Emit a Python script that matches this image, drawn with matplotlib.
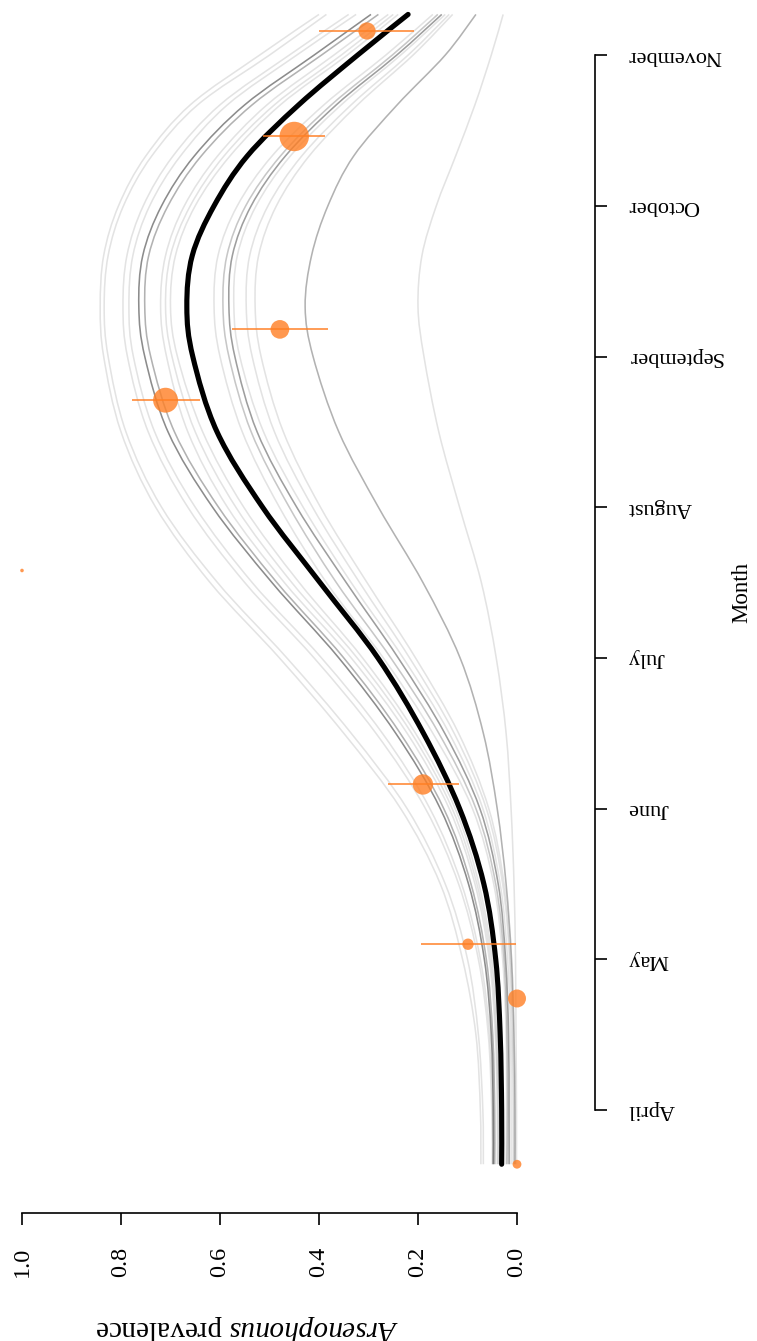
import matplotlib
matplotlib.use("Agg")
import matplotlib.pyplot as plt
from matplotlib.path import Path
from matplotlib.patches import PathPatch
import numpy as np

plt.rcParams['font.family'] = ['Liberation Serif', 'DejaVu Serif']
plt.rcParams['mathtext.fontset'] = 'custom'
plt.rcParams['mathtext.it'] = 'Liberation Serif:italic'
plt.rcParams['mathtext.rm'] = 'Liberation Serif'

# ---------------- data ----------------
months = ["April", "May", "June", "July", "August", "September", "October", "November"]
month_pos = [0, 1, 2, 3, 4, 5, 6, 7]
prev_ticks = [0.0, 0.2, 0.4, 0.6, 0.8, 1.0]
prev_tick_labels = ["0.0", "0.2", "0.4", "0.6", "0.8", "1.0"]

# observed samples (time in months since 1 April)
obs_time = [-0.36, 0.74, 1.10, 2.16, 3.58, 4.71, 5.18, 6.46, 7.16]
obs_prev = [0.0, 0.0, 0.099, 0.19, 1.0, 0.71, 0.479, 0.45, 0.303]
obs_n = [6, 25, 10, 32, 1, 48, 27, 67, 23]
err_time = [1.10, 2.16, 4.71, 5.18, 6.46, 7.16]
err_lo = [0.002, 0.117, 0.640, 0.382, 0.388, 0.208]
err_hi = [0.194, 0.261, 0.778, 0.576, 0.513, 0.400]

# common time grid for the model curves
grid_t = [-0.36, 0.0, 0.5, 1.0, 1.5, 2.0, 2.5, 3.0, 3.5, 4.0, 4.5, 5.0, 5.33, 5.67, 6.0, 6.33, 6.67, 7.0, 7.27]

# fitted curve (thick black)
fit_p = [0.031, 0.031, 0.034, 0.043, 0.067, 0.116, 0.189, 0.281, 0.398, 0.514, 0.606, 0.655, 0.667,
         0.656, 0.612, 0.545, 0.441, 0.322, 0.220]

# alternative model curves (gray)
alt_curves = [
    [0.073, 0.074, 0.083, 0.110, 0.155, 0.235, 0.350, 0.480, 0.620, 0.730, 0.800, 0.835, 0.842, 0.835, 0.805, 0.750, 0.660, 0.520, 0.400],
    [0.068, 0.069, 0.078, 0.100, 0.145, 0.222, 0.335, 0.465, 0.605, 0.718, 0.790, 0.826, 0.834, 0.826, 0.795, 0.738, 0.645, 0.500, 0.385],
    [0.050, 0.051, 0.058, 0.078, 0.118, 0.185, 0.285, 0.410, 0.550, 0.665, 0.745, 0.787, 0.796, 0.788, 0.755, 0.695, 0.600, 0.460, 0.340],
    [0.048, 0.049, 0.055, 0.074, 0.112, 0.176, 0.272, 0.395, 0.535, 0.650, 0.732, 0.775, 0.784, 0.776, 0.742, 0.680, 0.585, 0.445, 0.325],
    [0.048, 0.048, 0.052, 0.066, 0.098, 0.155, 0.245, 0.360, 0.495, 0.615, 0.705, 0.752, 0.764, 0.756, 0.718, 0.652, 0.550, 0.410, 0.295],
    [0.045, 0.045, 0.049, 0.062, 0.093, 0.148, 0.236, 0.350, 0.485, 0.603, 0.692, 0.740, 0.752, 0.744, 0.705, 0.638, 0.535, 0.395, 0.280],
    [0.040, 0.040, 0.044, 0.056, 0.085, 0.137, 0.222, 0.335, 0.470, 0.585, 0.665, 0.708, 0.720, 0.710, 0.672, 0.605, 0.505, 0.370, 0.260],
    [0.038, 0.038, 0.042, 0.053, 0.081, 0.131, 0.213, 0.323, 0.455, 0.568, 0.650, 0.697, 0.710, 0.700, 0.660, 0.592, 0.490, 0.355, 0.250],
    [0.036, 0.036, 0.040, 0.050, 0.077, 0.125, 0.205, 0.312, 0.440, 0.552, 0.635, 0.686, 0.700, 0.690, 0.650, 0.580, 0.478, 0.343, 0.240],
    [0.022, 0.021, 0.022, 0.029, 0.047, 0.090, 0.170, 0.270, 0.385, 0.480, 0.555, 0.600, 0.612, 0.604, 0.565, 0.495, 0.390, 0.265, 0.170],
    [0.020, 0.019, 0.020, 0.026, 0.043, 0.083, 0.158, 0.255, 0.365, 0.460, 0.537, 0.582, 0.594, 0.586, 0.548, 0.478, 0.375, 0.252, 0.160],
    [0.016, 0.016, 0.017, 0.023, 0.038, 0.075, 0.146, 0.240, 0.345, 0.445, 0.525, 0.570, 0.582, 0.575, 0.537, 0.468, 0.365, 0.243, 0.152],
    [0.012, 0.012, 0.013, 0.019, 0.034, 0.069, 0.137, 0.230, 0.335, 0.432, 0.512, 0.560, 0.572, 0.565, 0.527, 0.458, 0.355, 0.235, 0.145],
    [0.008, 0.008, 0.010, 0.015, 0.029, 0.062, 0.127, 0.217, 0.318, 0.413, 0.490, 0.535, 0.547, 0.540, 0.503, 0.435, 0.335, 0.220, 0.137],
    [0.006, 0.006, 0.008, 0.013, 0.026, 0.057, 0.118, 0.205, 0.303, 0.397, 0.472, 0.517, 0.529, 0.522, 0.486, 0.420, 0.322, 0.210, 0.130],
    [0.004, 0.004, 0.006, 0.011, 0.022, 0.040, 0.068, 0.115, 0.190, 0.280, 0.360, 0.412, 0.428, 0.415, 0.382, 0.330, 0.242, 0.145, 0.083],
    [0.001, 0.001, 0.002, 0.003, 0.006, 0.012, 0.022, 0.042, 0.072, 0.116, 0.158, 0.188, 0.200, 0.192, 0.163, 0.124, 0.085, 0.052, 0.028],
]
alt_weight = [0.11, 0.11, 0.11, 0.11, 0.45, 0.30, 0.11, 0.11, 0.11,
              0.11, 0.22, 0.38, 0.11, 0.11, 0.11, 0.30, 0.11]


def smooth_path(xs, ys):
    """Catmull-Rom style cubic Bezier path through the given points."""
    P = np.column_stack([xs, ys]).astype(float)
    n = len(P)
    verts = [P[0]]
    codes = [Path.MOVETO]
    for i in range(n - 1):
        p0 = P[i - 1] if i > 0 else P[i]
        p1, p2 = P[i], P[i + 1]
        p3 = P[i + 2] if i + 2 < n else P[i + 1]
        c1 = p1 + (p2 - p0) / 6.0
        c2 = p2 - (p3 - p1) / 6.0
        verts += [c1, c2, p2]
        codes += [Path.CURVE4] * 3
    return Path(verts, codes)


# ---------------- figure ----------------
W, H, DPI = 757, 1341, 100
fig = plt.figure(figsize=(W / DPI, H / DPI), dpi=DPI)
ax = fig.add_axes([0, 1 - 1213 / H, 600 / W, 1213 / H])
ax.set_facecolor('none')

# pixel mapping: x = 517 - 495 * p ; y = 1110 - 150.7 * t
ax.set_xlim(517 / 495, (517 - 600) / 495)
ax.set_ylim((1110 - 1213) / 150.7, 1110 / 150.7)

for vals, w in zip(alt_curves, alt_weight):
    ax.add_patch(PathPatch(smooth_path(vals, grid_t), facecolor='none', edgecolor='black',
                           alpha=w, lw=1.15, capstyle='butt', zorder=2))

ax.add_patch(PathPatch(smooth_path(fit_p, grid_t), facecolor='none', edgecolor='black',
                       lw=3.7, capstyle='round', zorder=3))

orange = '#FF7F24'
ax.hlines(err_time, err_lo, err_hi, color=orange, lw=1.2, alpha=0.9, zorder=5)
ax.scatter(obs_prev, obs_time, s=[6.7 * n for n in obs_n], color=orange, alpha=0.8,
           edgecolors='none', zorder=4)

# axes styling (R-like, rotated layout)
for sp in ['top', 'left']:
    ax.spines[sp].set_visible(False)
ax.spines['bottom'].set_bounds(0, 1)
ax.spines['bottom'].set_linewidth(1.2)
ax.spines['right'].set_position(('data', (517 - 595) / 495))
ax.spines['right'].set_bounds(0, 7)
ax.spines['right'].set_linewidth(1.2)

ax.yaxis.tick_right()
ax.set_yticks(month_pos)
ax.set_yticklabels(months, rotation=180, va='center', ha='left', fontsize=16)
ax.tick_params(axis='y', direction='out', length=8.6, width=1.2, pad=15)

ax.set_xticks(prev_ticks)
ax.set_xticklabels(prev_tick_labels, rotation=90, fontsize=17.5)
ax.tick_params(axis='x', direction='out', length=8.6, width=1.2, pad=15.5)

fig.text(742 / W, 1 - 592 / H, "Month", rotation=90, ha='center', va='center', fontsize=16.5)
fig.text(247 / W, 1 - 1328 / H, r"$\mathit{Arsenophonus}$ prevalence", rotation=180,
         ha='center', va='center', fontsize=21)

fig.savefig("out.png", dpi=DPI)
